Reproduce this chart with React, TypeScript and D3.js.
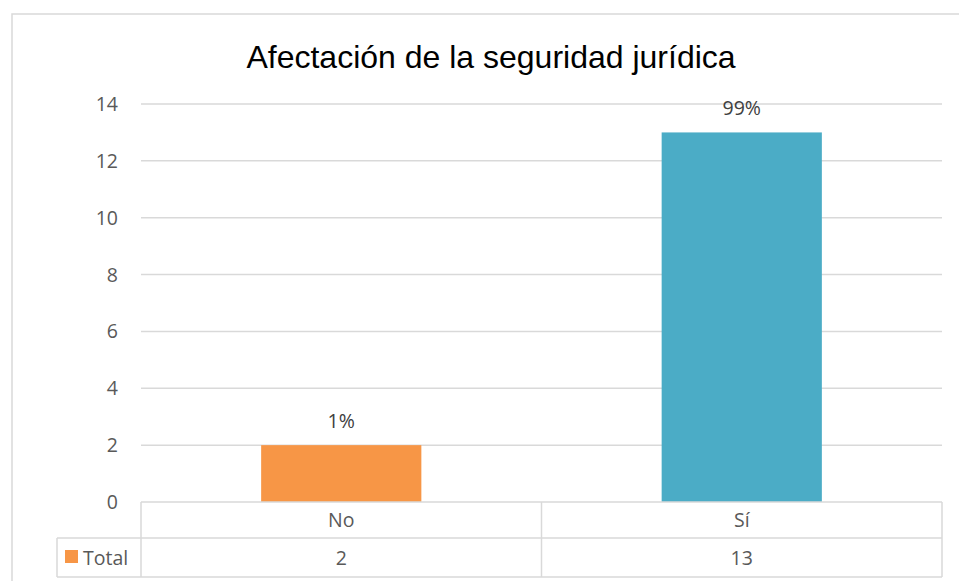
import React from 'react';
import * as d3 from 'd3';

const categories = ['No', 'Sí'];
const totals = [2, 13];
const percentLabels = ['1%', '99%'];
const barColors = ['#F79646', '#4BACC6'];
const yTicks = [0, 2, 4, 6, 8, 10, 12, 14];
const seriesName = 'Total';
const title = 'Afectación de la seguridad jurídica';

const W = 959;
const H = 581;
const plot = { left: 141, right: 942, top: 104, bottom: 502 };
const rowMid = 538;
const tableBottom = 577;
const legendLeft = 57;
const grid = '#d9d9d9';
const textColor = '#595959';
const bodyFont = '"Open Sans", "Noto Sans", sans-serif';
const fs = 19.5;

export default function App() {
  const x = d3.scaleBand().domain(categories).range([plot.left, plot.right]).padding(0);
  const y = d3.scaleLinear().domain([0, 14]).range([plot.bottom, plot.top]);
  const barW = x.bandwidth() * 0.4;

  return (
    <svg width={W} height={H} style={{ position: 'absolute', left: 0, top: 0, background: '#fff' }}>
      {/* chart frame */}
      <rect x={12} y={14} width={W + 10} height={H + 10} fill="#fff" stroke={grid} strokeWidth={1.5} />

      <text x={491} y={68} textAnchor="middle" fontFamily='"Liberation Sans", Arial, sans-serif'
        fontSize={32} fill="#000">{title}</text>

      {/* gridlines */}
      {yTicks.filter(t => t > 0).map(t => (
        <line key={t} x1={plot.left} x2={plot.right} y1={y(t)} y2={y(t)} stroke={grid} strokeWidth={1.5} />
      ))}
      {yTicks.map(t => (
        <text key={'l' + t} x={118} y={y(t)} dy="0.36em" textAnchor="end" fontFamily={bodyFont}
          fontSize={fs} fill={textColor}>{t}</text>
      ))}

      {/* bars */}
      {categories.map((c, i) => {
        const cx = (x(c) as number) + x.bandwidth() / 2;
        return (
          <g key={c}>
            <rect x={cx - barW / 2} y={y(totals[i])} width={barW} height={y(0) - y(totals[i])} fill={barColors[i]} />
            <text x={cx} y={y(totals[i]) - 17} textAnchor="middle" fontFamily={bodyFont} fontSize={fs}
              fill="#404040">{percentLabels[i]}</text>
          </g>
        );
      })}

      {/* data table */}
      <g stroke={grid} strokeWidth={1.5} fill="none">
        <line x1={plot.left} x2={plot.right} y1={plot.bottom} y2={plot.bottom} />
        <line x1={legendLeft} x2={plot.right} y1={rowMid} y2={rowMid} />
        <line x1={legendLeft} x2={plot.right} y1={tableBottom} y2={tableBottom} />
        <line x1={legendLeft} x2={legendLeft} y1={rowMid} y2={tableBottom} />
        {[plot.left, ...categories.map(c => (x(c) as number) + x.bandwidth())].map((vx, i) => (
          <line key={i} x1={vx} x2={vx} y1={plot.bottom} y2={tableBottom} />
        ))}
      </g>
      {categories.map((c, i) => {
        const cx = (x(c) as number) + x.bandwidth() / 2;
        return (
          <g key={'t' + c} fontFamily={bodyFont} fontSize={fs} fill={textColor} textAnchor="middle">
            <text x={cx} y={(plot.bottom + rowMid) / 2} dy="0.36em">{c}</text>
            <text x={cx} y={(rowMid + tableBottom) / 2} dy="0.36em">{totals[i]}</text>
          </g>
        );
      })}
      <rect x={65} y={550} width={13} height={13} fill={barColors[0]} />
      <text x={83} y={(rowMid + tableBottom) / 2} dy="0.36em" fontFamily={bodyFont} fontSize={fs}
        fill={textColor}>{seriesName}</text>
    </svg>
  );
}
